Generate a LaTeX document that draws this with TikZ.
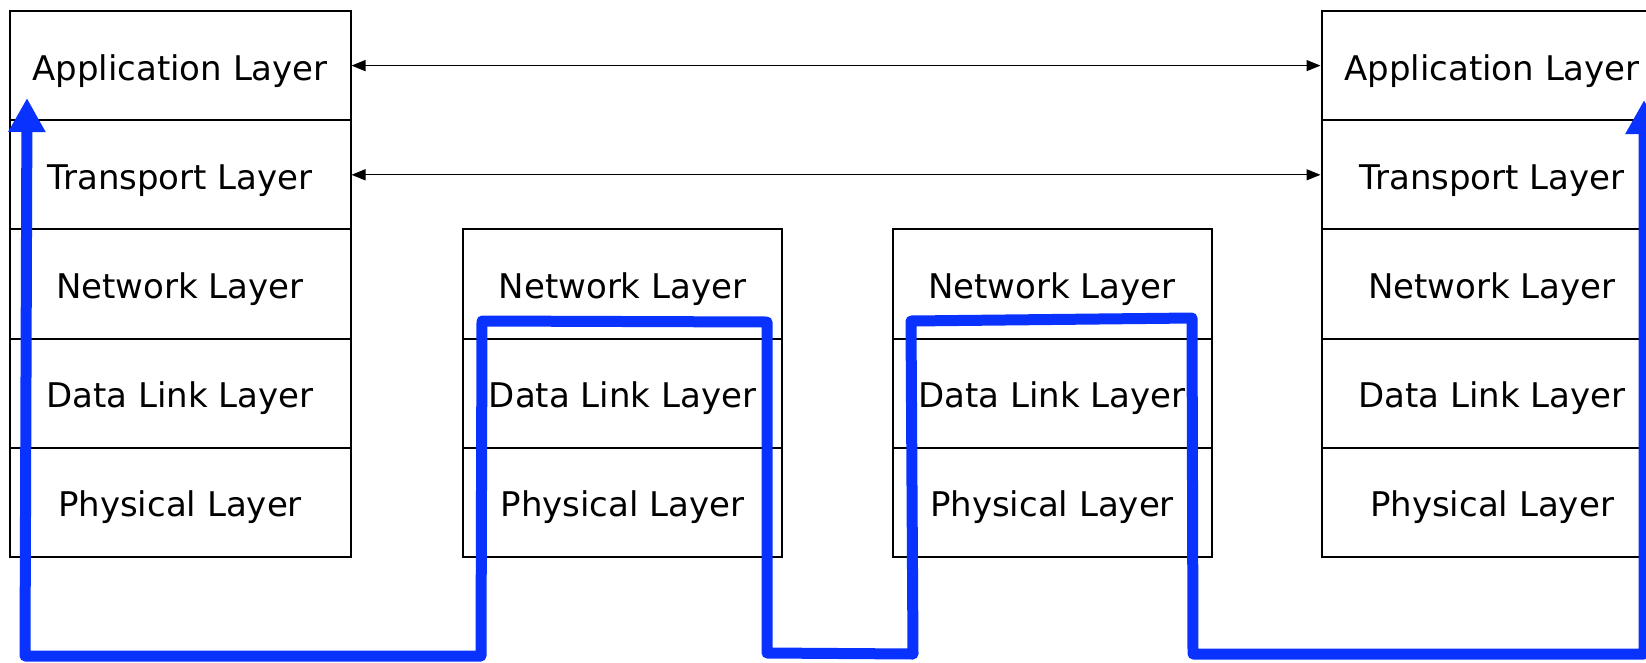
\documentclass[tikz,border=0pt]{standalone}
\usepackage{fontspec}
\setmainfont{DejaVu Sans}
\usetikzlibrary{arrows.meta}
\definecolor{routeblue}{RGB}{10,50,255}
\begin{document}
\begin{tikzpicture}[x=1pt,y=-1pt,
  layer/.style={draw=black, line width=2pt, minimum height=109.2pt,
    inner sep=0pt, text height=30pt, text depth=1.2pt,
    font=\fontsize{34}{40}\selectfont},
  hostlayer/.style={layer, minimum width=341pt},
  routerlayer/.style={layer, minimum width=319pt},
  peerlink/.style={line width=1.3pt, black,
    {Triangle[length=14pt,width=11pt]}-{Triangle[length=14pt,width=11pt]}},
  route/.style={line width=11pt, routeblue, line join=round,
    {Triangle[length=34pt,width=35pt]}-{Triangle[length=34pt,width=35pt]}}]

\useasboundingbox (0,0) rectangle (1646,662);
\clip (0,0) rectangle (1646,662);

% sending host
\node[hostlayer] (lapp) at (180,65.6)  {Application Layer};
\node[hostlayer] (ltra) at (180,174.8) {Transport Layer};
\node[hostlayer] (lnet) at (180,284)   {Network Layer};
\node[hostlayer] (ldl)  at (180,393.2) {Data Link Layer};
\node[hostlayer] (lphy) at (180,502.4) {Physical Layer};

% first router
\node[routerlayer] (anet) at (622.5,284)   {Network Layer};
\node[routerlayer] (adl)  at (622.5,393.2) {Data Link Layer};
\node[routerlayer] (aphy) at (622.5,502.4) {Physical Layer};

% second router
\node[routerlayer] (bnet) at (1052,284)   {Network Layer};
\node[routerlayer] (bdl)  at (1052,393.2) {Data Link Layer};
\node[routerlayer] (bphy) at (1052,502.4) {Physical Layer};

% receiving host
\node[hostlayer] (rapp) at (1492,65.6)  {Application Layer};
\node[hostlayer] (rtra) at (1492,174.8) {Transport Layer};
\node[hostlayer] (rnet) at (1492,284)   {Network Layer};
\node[hostlayer] (rdl)  at (1492,393.2) {Data Link Layer};
\node[hostlayer] (rphy) at (1492,502.4) {Physical Layer};

% peer-to-peer communication
\draw[peerlink] (lapp.east) -- (rapp.west);
\draw[peerlink] (ltra.east) -- (rtra.west);

% actual data path through the stacks
\coordinate (p0)  at (27,98);
\coordinate (p1)  at (25,656);
\coordinate (p2)  at (481,656);
\coordinate (p3)  at (482,321);
\coordinate (p4)  at (767,322);
\coordinate (p5)  at (767,653);
\coordinate (p6)  at (913,654);
\coordinate (p7)  at (911,321);
\coordinate (p8)  at (1192,318);
\coordinate (p9)  at (1193,654);
\coordinate (p10) at (1644,654);
\coordinate (p11) at (1644,100);
\draw[route] (p0) -- (p1) -- (p2) -- (p3) -- (p4) -- (p5) -- (p6)
  -- (p7) -- (p8) -- (p9) -- (p10) -- (p11);
\end{tikzpicture}
\end{document}
